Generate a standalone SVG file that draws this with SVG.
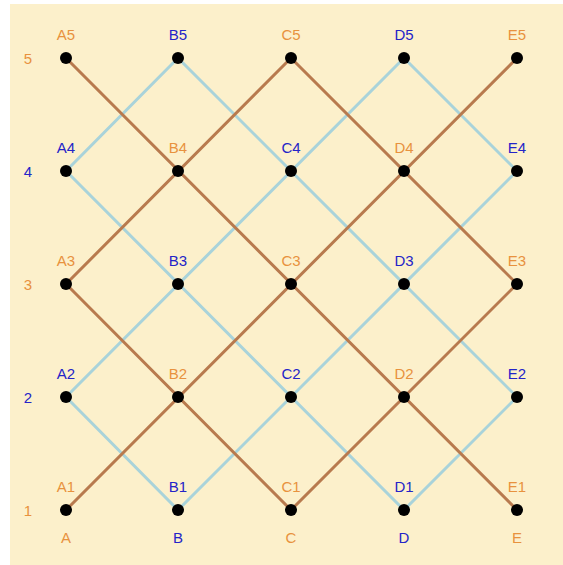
<svg xmlns="http://www.w3.org/2000/svg" width="563" height="565" viewBox="0 0 563 565">
<style>
text{font-family:"Liberation Sans",Arial,sans-serif;font-size:15px;text-anchor:middle}
.o{fill:#E8923E}
.b{fill:#2424C8}
.br{stroke:#B87A4E;stroke-width:3;fill:none;stroke-linecap:round}
.bl{stroke:#A9D3DA;stroke-width:3;fill:none;stroke-linecap:round}
.dot{fill:#000}
</style>
<rect x="0" y="0" width="563" height="565" fill="#ffffff"/>
<rect x="10" y="4" width="553" height="561" fill="#FCF0CB"/>
<g id="connectors">
<g class="bl">
<line x1="66" y1="397" x2="178" y2="510"/>
<line x1="66" y1="397" x2="404" y2="58"/>
<line x1="66" y1="171" x2="178" y2="58"/>
<line x1="66" y1="171" x2="404" y2="510"/>
<line x1="178" y1="510" x2="517" y2="171"/>
<line x1="178" y1="58" x2="517" y2="397"/>
<line x1="404" y1="58" x2="517" y2="171"/>
<line x1="404" y1="510" x2="517" y2="397"/>
</g>
<g class="br">
<line x1="66" y1="510" x2="517" y2="58"/>
<line x1="66" y1="58" x2="517" y2="510"/>
<line x1="66" y1="284" x2="291" y2="58"/>
<line x1="66" y1="284" x2="291" y2="510"/>
<line x1="291" y1="510" x2="517" y2="284"/>
<line x1="291" y1="58" x2="517" y2="284"/>
</g>
</g>
<g id="axes">
<text class="o" x="28" y="64">5</text>
<text class="b" x="28" y="177">4</text>
<text class="o" x="28" y="290">3</text>
<text class="b" x="28" y="403">2</text>
<text class="o" x="28" y="516">1</text>
<text class="o" x="66" y="543">A</text>
<text class="b" x="178" y="543">B</text>
<text class="o" x="291" y="543">C</text>
<text class="b" x="404" y="543">D</text>
<text class="o" x="517" y="543">E</text>
</g>
<g id="A5"><circle class="dot" cx="66" cy="58" r="6"/><text class="o" x="66" y="40">A5</text></g>
<g id="B5"><circle class="dot" cx="178" cy="58" r="6"/><text class="b" x="178" y="40">B5</text></g>
<g id="C5"><circle class="dot" cx="291" cy="58" r="6"/><text class="o" x="291" y="40">C5</text></g>
<g id="D5"><circle class="dot" cx="404" cy="58" r="6"/><text class="b" x="404" y="40">D5</text></g>
<g id="E5"><circle class="dot" cx="517" cy="58" r="6"/><text class="o" x="517" y="40">E5</text></g>
<g id="A4"><circle class="dot" cx="66" cy="171" r="6"/><text class="b" x="66" y="153">A4</text></g>
<g id="B4"><circle class="dot" cx="178" cy="171" r="6"/><text class="o" x="178" y="153">B4</text></g>
<g id="C4"><circle class="dot" cx="291" cy="171" r="6"/><text class="b" x="291" y="153">C4</text></g>
<g id="D4"><circle class="dot" cx="404" cy="171" r="6"/><text class="o" x="404" y="153">D4</text></g>
<g id="E4"><circle class="dot" cx="517" cy="171" r="6"/><text class="b" x="517" y="153">E4</text></g>
<g id="A3"><circle class="dot" cx="66" cy="284" r="6"/><text class="o" x="66" y="266">A3</text></g>
<g id="B3"><circle class="dot" cx="178" cy="284" r="6"/><text class="b" x="178" y="266">B3</text></g>
<g id="C3"><circle class="dot" cx="291" cy="284" r="6"/><text class="o" x="291" y="266">C3</text></g>
<g id="D3"><circle class="dot" cx="404" cy="284" r="6"/><text class="b" x="404" y="266">D3</text></g>
<g id="E3"><circle class="dot" cx="517" cy="284" r="6"/><text class="o" x="517" y="266">E3</text></g>
<g id="A2"><circle class="dot" cx="66" cy="397" r="6"/><text class="b" x="66" y="379">A2</text></g>
<g id="B2"><circle class="dot" cx="178" cy="397" r="6"/><text class="o" x="178" y="379">B2</text></g>
<g id="C2"><circle class="dot" cx="291" cy="397" r="6"/><text class="b" x="291" y="379">C2</text></g>
<g id="D2"><circle class="dot" cx="404" cy="397" r="6"/><text class="o" x="404" y="379">D2</text></g>
<g id="E2"><circle class="dot" cx="517" cy="397" r="6"/><text class="b" x="517" y="379">E2</text></g>
<g id="A1"><circle class="dot" cx="66" cy="510" r="6"/><text class="o" x="66" y="492">A1</text></g>
<g id="B1"><circle class="dot" cx="178" cy="510" r="6"/><text class="b" x="178" y="492">B1</text></g>
<g id="C1"><circle class="dot" cx="291" cy="510" r="6"/><text class="o" x="291" y="492">C1</text></g>
<g id="D1"><circle class="dot" cx="404" cy="510" r="6"/><text class="b" x="404" y="492">D1</text></g>
<g id="E1"><circle class="dot" cx="517" cy="510" r="6"/><text class="o" x="517" y="492">E1</text></g>
</svg>
